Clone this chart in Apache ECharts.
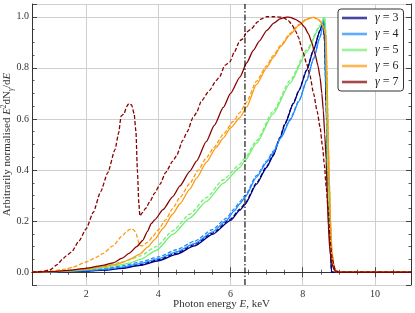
<!DOCTYPE html>
<html><head><meta charset="utf-8">
<script src="https://cdn.jsdelivr.net/npm/echarts@6/dist/echarts.min.js"></script>
<style>html,body{margin:0;padding:0;background:#fff}#c{width:415px;height:313px}</style>
</head><body><div id="c"></div>
<script>
// Photon energy (keV) vs arbitrarily normalised E^2 dN/dE
const gammaLabels = ['3', '4', '5', '6', '7'];
const lineEnergy = 6.4; // vertical dash-dot marker (keV)
const xTicks = [2, 4, 6, 8, 10];
const yTicks = [0.0, 0.2, 0.4, 0.6, 0.8, 1.0];

const g3Solid = [[0.5,0],[1,0.001],[1.5,0.002],[2,0.004],[2.5,0.008],[3,0.015],[3.5,0.027],[4,0.045],[4.5,0.07],[5,0.103],[5.5,0.148],[6,0.203],[6.26,0.243],[6.4,0.265],[6.72,0.345],[7,0.41],[7.18,0.455],[7.37,0.525],[7.51,0.58],[7.74,0.66],[7.9,0.712],[8.11,0.79],[8.3,0.87],[8.48,0.946],[8.57,0.985],[8.61,0.9],[8.65,0.65],[8.7,0.37],[8.75,0.13],[8.8,0],[11,0]];
const g3Dashed = [[0.5,0],[1,0.001],[1.5,0.003],[2,0.005],[2.5,0.009],[3,0.017],[3.5,0.03],[4,0.049],[4.5,0.075],[5,0.108],[5.5,0.153],[6,0.208],[6.26,0.247],[6.4,0.269],[6.72,0.349],[7,0.414],[7.18,0.459],[7.37,0.528],[7.51,0.583],[7.74,0.662],[7.9,0.714],[8.11,0.792],[8.3,0.871],[8.48,0.947],[8.57,0.985],[8.61,0.9],[8.65,0.65],[8.7,0.37],[8.75,0.13],[8.8,0],[11,0]];

const g4Solid = [[0.5,0],[1,0.001],[1.5,0.003],[2,0.006],[2.5,0.011],[3,0.02],[3.5,0.034],[4,0.053],[4.5,0.08],[5,0.112],[5.5,0.158],[5.89,0.203],[6.1,0.24],[6.26,0.268],[6.4,0.293],[6.72,0.372],[7,0.43],[7.18,0.468],[7.4,0.527],[7.65,0.595],[7.9,0.67],[8.11,0.75],[8.3,0.835],[8.48,0.92],[8.59,0.99],[8.62,0.93],[8.66,0.7],[8.7,0.45],[8.75,0.2],[8.8,0.07],[8.87,0.015],[8.94,0],[11,0]];
const g4Dashed = [[0.5,0],[1,0.002],[1.5,0.004],[2,0.008],[2.5,0.014],[3,0.025],[3.5,0.04],[4,0.06],[4.5,0.088],[5,0.121],[5.5,0.167],[5.89,0.212],[6.1,0.248],[6.26,0.276],[6.4,0.3],[6.72,0.378],[7,0.435],[7.18,0.473],[7.4,0.531],[7.65,0.599],[7.9,0.673],[8.11,0.752],[8.3,0.837],[8.48,0.921],[8.59,0.99],[8.62,0.93],[8.66,0.7],[8.7,0.45],[8.75,0.2],[8.8,0.07],[8.87,0.015],[8.94,0],[11,0]];

const g5Solid = [[0.5,0],[1,0.002],[1.5,0.005],[2,0.01],[2.5,0.018],[3,0.03],[3.2,0.036],[3.5,0.05],[3.94,0.085],[4.4,0.148],[4.87,0.212],[5.33,0.277],[5.8,0.348],[6.26,0.41],[6.4,0.437],[6.72,0.505],[7.18,0.62],[7.65,0.74],[8.11,0.862],[8.48,0.962],[8.6,0.998],[8.63,0.97],[8.65,0.85],[8.67,0.6],[8.7,0.35],[8.74,0.17],[8.8,0.06],[8.87,0.015],[8.94,0],[11,0]];
const g5Dashed = [[0.5,0],[1,0.003],[1.5,0.007],[2,0.014],[2.5,0.025],[3,0.04],[3.2,0.048],[3.5,0.064],[3.94,0.1],[4.4,0.162],[4.87,0.227],[5.33,0.292],[5.8,0.362],[6.26,0.422],[6.4,0.448],[6.72,0.515],[7.18,0.63],[7.65,0.75],[8.11,0.87],[8.48,0.966],[8.6,1.0],[8.63,0.97],[8.65,0.85],[8.67,0.6],[8.7,0.35],[8.74,0.17],[8.8,0.06],[8.87,0.015],[8.94,0],[11,0]];

const g6Solid = [[0.5,0],[1,0.002],[1.5,0.006],[2,0.012],[2.5,0.022],[2.8,0.03],[3,0.038],[3.2,0.05],[3.5,0.072],[3.7,0.098],[3.9,0.128],[4.13,0.172],[4.4,0.228],[4.6,0.268],[4.87,0.325],[5.06,0.368],[5.33,0.43],[5.6,0.488],[5.8,0.525],[6,0.565],[6.26,0.605],[6.44,0.645],[6.72,0.735],[7,0.8],[7.18,0.84],[7.4,0.885],[7.65,0.93],[7.9,0.967],[8.11,0.99],[8.3,0.998],[8.43,0.99],[8.5,0.98],[8.57,0.962],[8.64,0.93],[8.67,0.8],[8.69,0.65],[8.71,0.5],[8.74,0.35],[8.77,0.2],[8.81,0.08],[8.87,0.02],[8.94,0],[11,0]];
const g6Dashed = [[0.5,0],[1,0.004],[1.44,0.012],[1.63,0.02],[2,0.04],[2.28,0.058],[2.46,0.073],[2.74,0.103],[3,0.142],[3.11,0.158],[3.2,0.167],[3.27,0.17],[3.33,0.164],[3.39,0.15],[3.43,0.128],[3.48,0.105],[3.55,0.103],[3.71,0.118],[3.85,0.14],[3.99,0.165],[4.2,0.205],[4.4,0.25],[4.6,0.293],[4.87,0.347],[5.1,0.398],[5.33,0.448],[5.55,0.49],[5.8,0.54],[6.07,0.59],[6.26,0.625],[6.44,0.665],[6.72,0.748],[7,0.808],[7.18,0.848],[7.4,0.89],[7.65,0.935],[7.9,0.97],[8.11,0.992],[8.3,0.998],[8.43,0.99],[8.5,0.98],[8.57,0.963],[8.64,0.93],[8.67,0.8],[8.69,0.65],[8.71,0.5],[8.74,0.35],[8.77,0.2],[8.81,0.08],[8.87,0.02],[8.94,0],[11,0]];

const g7Solid = [[0.5,0],[1,0.002],[1.5,0.007],[2,0.015],[2.5,0.028],[2.75,0.037],[3,0.055],[3.2,0.075],[3.4,0.1],[3.57,0.125],[3.7,0.16],[3.8,0.19],[3.9,0.205],[4.13,0.245],[4.4,0.296],[4.6,0.338],[4.87,0.395],[5.06,0.435],[5.33,0.512],[5.55,0.575],[5.8,0.645],[6,0.7],[6.26,0.764],[6.45,0.82],[6.63,0.868],[6.8,0.905],[7,0.946],[7.2,0.975],[7.37,0.992],[7.55,0.999],[7.65,0.998],[7.8,0.99],[7.93,0.979],[8.05,0.96],[8.16,0.933],[8.25,0.9],[8.34,0.855],[8.42,0.81],[8.48,0.764],[8.53,0.7],[8.57,0.634],[8.61,0.54],[8.65,0.44],[8.68,0.3],[8.71,0.18],[8.75,0.09],[8.8,0.037],[8.87,0.01],[8.94,0],[11,0]];
const g7Dashed = [[0.5,0],[0.8,0.003],[1,0.01],[1.2,0.03],[1.35,0.052],[1.45,0.064],[1.6,0.08],[1.8,0.122],[2,0.17],[2.2,0.235],[2.4,0.315],[2.6,0.39],[2.8,0.48],[2.9,0.545],[2.97,0.612],[3.05,0.62],[3.12,0.648],[3.18,0.66],[3.26,0.655],[3.33,0.62],[3.38,0.55],[3.42,0.4],[3.46,0.27],[3.49,0.22],[3.55,0.232],[3.65,0.25],[3.76,0.275],[3.9,0.31],[4.05,0.345],[4.2,0.39],[4.4,0.435],[4.5,0.455],[4.68,0.517],[4.8,0.55],[4.96,0.605],[5.06,0.625],[5.19,0.67],[5.42,0.712],[5.6,0.75],[5.7,0.765],[5.84,0.81],[5.98,0.823],[6.1,0.86],[6.26,0.907],[6.35,0.914],[6.44,0.94],[6.58,0.953],[6.75,0.98],[6.86,0.992],[7,1.0],[7.2,1.0],[7.46,0.998],[7.6,0.985],[7.69,0.972],[7.8,0.945],[7.88,0.92],[8,0.865],[8.11,0.816],[8.2,0.77],[8.3,0.7],[8.4,0.63],[8.48,0.569],[8.55,0.49],[8.6,0.42],[8.65,0.335],[8.7,0.255],[8.76,0.12],[8.82,0.05],[8.9,0.01],[9,0],[11,0]];

const colors = ['#00007f', '#1e8cff', '#74ee74', '#ff9a10', '#870000'];
const solidSets = [g3Solid, g4Solid, g5Solid, g6Solid, g7Solid];
const dashedSets = [g3Dashed, g4Dashed, g5Dashed, g6Dashed, g7Dashed];

const FONT = 'Liberation Serif';
const chart = echarts.init(document.getElementById('c'), null, {renderer: 'canvas'});

const series = [];
gammaLabels.forEach((g, i) => {
  series.push({
    name: 'γ = ' + g, type: 'line', data: solidSets[i], showSymbol: false, symbol: 'none',
    smooth: 0.2, smoothMonotone: 'x', color: colors[i],
    lineStyle: {width: 1.3, color: colors[i]}, z: 2 + i * 2, silent: true
  });
  series.push({
    name: 'dashed ' + g, type: 'line', data: dashedSets[i], showSymbol: false, symbol: 'none',
    smooth: 0.2, smoothMonotone: 'x', color: colors[i],
    lineStyle: {width: 1.3, color: colors[i], type: [4, 2]}, z: 3 + i * 2, silent: true
  });
});
series.push({
  name: 'marker', type: 'line', data: [[lineEnergy, -0.05], [lineEnergy, 1.05]],
  showSymbol: false, symbol: 'none', color: '#000',
  lineStyle: {width: 1.1, color: '#000', type: [6, 2, 1.5, 2]}, z: 20, silent: true
});

const axisCommon = {
  axisLine: {show: true, lineStyle: {color: '#333', width: 1}},
  axisTick: {show: true, inside: true, length: 5, lineStyle: {color: '#333', width: 0.9}},
  minorTick: {show: true, splitNumber: 4, length: 2.5, lineStyle: {color: '#333', width: 0.8}},
};
const nameRich = {
  n: {fontFamily: FONT, fontSize: 11, color: '#333', lineHeight: 15},
  i: {fontFamily: FONT, fontSize: 11, fontStyle: 'italic', color: '#333', lineHeight: 15},
  sup: {fontFamily: FONT, fontSize: 7.5, color: '#333', verticalAlign: 'top', lineHeight: 15},
  sub: {fontFamily: FONT, fontSize: 7.5, fontStyle: 'italic', color: '#333', verticalAlign: 'bottom', lineHeight: 15}
};

chart.setOption({
  animation: false,
  backgroundColor: '#fff',
  grid: {left: 32, right: 4, top: 4, bottom: 28, containLabel: false, outerBoundsMode: 'none'},
  legend: {
    data: gammaLabels.map(g => 'γ = ' + g),
    orient: 'vertical', left: 338, top: 9,
    itemWidth: 25, itemHeight: 12, itemGap: 4,
    padding: [3, 5, 3, 4],
    backgroundColor: '#fff', borderColor: '#333', borderWidth: 1, borderRadius: 3,
    icon: 'path://M0,0 L25,0 L25,2.6 L0,2.6 Z',
    itemStyle: {opacity: 0.72, borderWidth: 0},
    formatter: n => '{g|γ}{t| = ' + n.slice(4) + '}',
    textStyle: {fontFamily: FONT, fontSize: 12, color: '#222', padding: [0, 0, 0, 3],
      rich: {g: {fontFamily: FONT, fontStyle: 'italic', fontSize: 12, color: '#222'},
             t: {fontFamily: FONT, fontSize: 12, color: '#222'}}}
  },
  xAxis: [
    Object.assign({
      type: 'value', min: 0.5, max: 11, splitNumber: 5, position: 'bottom',
      axisLabel: {show: true, fontFamily: FONT, fontSize: 10, color: '#333', margin: 4,
        showMinLabel: false, showMaxLabel: false,
        formatter: v => xTicks.includes(v) ? String(v) : ''},
      splitLine: {show: true, lineStyle: {color: '#cfcfcf', width: 1}},
      name: '{n|Photon energy }{i|E}{n|, keV}', nameLocation: 'middle', nameGap: 12,
      nameMoveOverlap: false,
      nameTextStyle: {fontFamily: FONT, fontSize: 11, color: '#333', rich: nameRich}
    }, axisCommon),
    Object.assign({
      type: 'value', min: 0.5, max: 11, splitNumber: 5, position: 'top',
      axisLabel: {show: false}, splitLine: {show: false}
    }, axisCommon)
  ],
  yAxis: [
    Object.assign({
      type: 'value', min: -0.05, max: 1.05, splitNumber: 5, position: 'left',
      axisLabel: {show: true, fontFamily: FONT, fontSize: 10, color: '#333', margin: 3,
        showMinLabel: false, showMaxLabel: false,
        formatter: v => yTicks.some(t => Math.abs(t - v) < 1e-9) ? v.toFixed(1) : ''},
      splitLine: {show: true, lineStyle: {color: '#cfcfcf', width: 1}},
      name: '{n|Arbitrarily normalised }{i|E}{sup|2}{n|dN}{sub|γ}{n|/d}{i|E}',
      nameLocation: 'middle', nameGap: 17, nameRotate: 90,
      nameMoveOverlap: false,
      nameTextStyle: {fontFamily: FONT, fontSize: 11, color: '#333', rich: nameRich}
    }, axisCommon),
    Object.assign({
      type: 'value', min: -0.05, max: 1.05, splitNumber: 5, position: 'right',
      axisLabel: {show: false}, splitLine: {show: false}
    }, axisCommon)
  ],
  series: series
});
</script>
</body></html>
